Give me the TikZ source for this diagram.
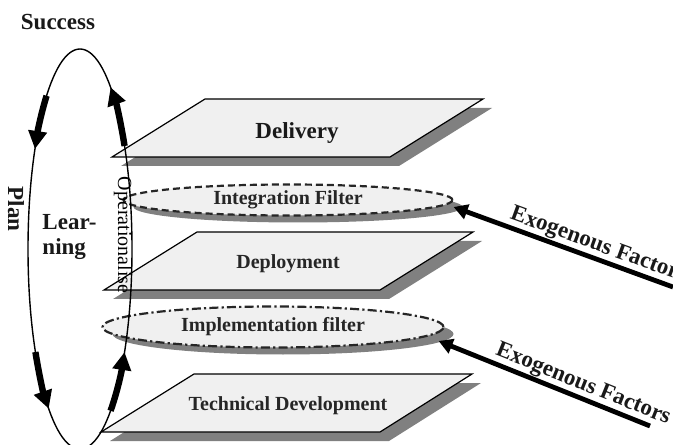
\documentclass[tikz,border=0pt]{standalone}
\usepackage{fontspec}
\setmainfont{Liberation Serif}
\usetikzlibrary{arrows.meta}
\usetikzlibrary{shapes.geometric}
\usetikzlibrary{shadows}
\definecolor{cardfill}{gray}{0.94}
\definecolor{shade}{gray}{0.5}
\begin{document}
\begin{tikzpicture}[x=0.5pt, y=0.5pt,
    card/.style={fill=cardfill, draw=black, line width=0.6pt,
      drop shadow={shadow xshift=4.5pt, shadow yshift=-4.5pt, fill=shade, opacity=1}},
    filt/.style={ellipse, fill=cardfill, draw=black!85, line width=1.1pt, inner sep=0pt,
      drop shadow={shadow xshift=5pt, shadow yshift=-3.5pt, fill=shade, opacity=1},
      font=\fontsize{10}{12}\selectfont\bfseries, text=black!85},
    lab/.style={font=\fontsize{11.5}{12.5}\selectfont\bfseries, text=black!90},
    small/.style={font=\fontsize{10}{12}\selectfont\bfseries, text=black!85},
    looparrow/.style={line width=3.2pt, -{Triangle[length=9pt, width=9pt]}},
    exo/.style={line width=2.4pt, -{Triangle[length=7pt, width=7.5pt]}}]
    \useasboundingbox (0,0) rectangle (673,444);

    \filldraw[card] (112,287) -- (390,287) -- (483,345) -- (205,345) -- cycle;
    \filldraw[card] (104,154) -- (380,154) -- (473,212) -- (197,212) -- cycle;
    \filldraw[card] (101,12) -- (380,12) -- (472,70) -- (194,70) -- cycle;

    \node[lab] (delivery) at (297,311) {Delivery};
    \node[small] (deploy) at (288,180) {Deployment};
    \node[small] (techdev) at (288,38) {Technical Development};

    \node[filt, dash pattern=on 3.5pt off 2pt, minimum width=164.5pt, minimum height=15.5pt] (intf) at (288,244) {Integration Filter};
    \node[filt, dash pattern=on 4.5pt off 1.6pt on 1.1pt off 1.6pt, minimum width=170.5pt, minimum height=20.5pt] (impf) at (273,117) {Implementation filter};

    \coordinate (ext1) at (673,157);
    \coordinate (ext2) at (650,18);
    \draw[exo] (ext1) -- ([yshift=-3.5pt]intf.east) node[pos=.36, sloped, above, inner sep=0.3pt, lab] {Exogenous Factors};
    \draw[exo] (ext2) -- ([shift={(-3pt,-7pt)}]impf.east) node[pos=.34, sloped, above, inner sep=0.3pt, lab] {Exogenous Factors};

    \node[lab] (success) at (58,422) {Success};
    \node[lab, rotate=-90] (plan) at (16,235) {Plan};
    \node[lab, align=left] (learn) at (69.5,207) {Lear-\\ning};
    \node[font=\fontsize{10}{12}\selectfont, rotate=-90] (oper) at (123,209) {Operationalise};

    \coordinate (loopc) at (80,195);
    \draw[line width=0.7pt] (loopc) ellipse [x radius=26pt, y radius=100pt];
    \draw[looparrow] ([shift={(130:26pt and 100pt)}]loopc) arc [start angle=130, end angle=150, x radius=26pt, y radius=100pt];
    \draw[looparrow] ([shift={(211:26pt and 100pt)}]loopc) arc [start angle=211, end angle=233, x radius=26pt, y radius=100pt];
    \draw[looparrow] ([shift={(306:26pt and 100pt)}]loopc) arc [start angle=306, end angle=329, x radius=26pt, y radius=100pt];
    \draw[looparrow] ([shift={(31:26pt and 100pt)}]loopc) arc [start angle=31, end angle=54, x radius=26pt, y radius=100pt];
\end{tikzpicture}
\end{document}
